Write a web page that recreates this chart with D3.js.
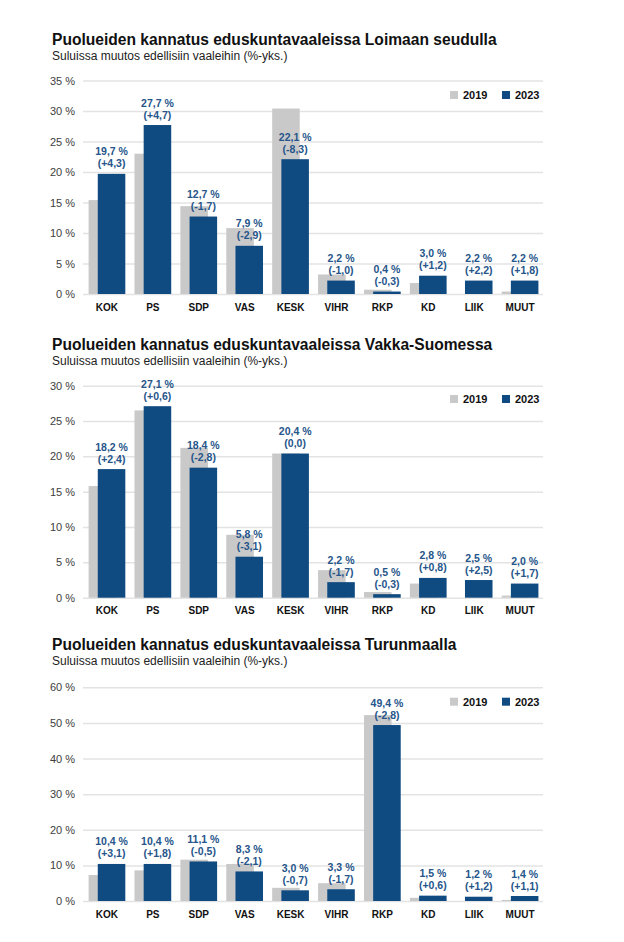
<!DOCTYPE html>
<html lang="fi">
<head>
    <meta charset="UTF-8">
    <title>Puolueiden kannatus eduskuntavaaleissa</title>
    <style>
        body { margin: 0; background: #fff; }
        svg { display: block; font-family: "Liberation Sans", Arial, sans-serif; }
        .tick line { stroke: #e3e3e3; stroke-width: 1.5; }
        .y-axis text { fill: #404040; font-size: 11px; }
        .x-axis text { fill: #111; font-size: 10px; font-weight: bold; }
    </style>
</head>
<body>
    <div id="chart"></div>

    <script src="https://d3js.org/d3.v7.min.js"></script>
    <script>
        const parties = ["KOK", "PS", "SDP", "VAS", "KESK", "VIHR", "RKP", "KD", "LIIK", "MUUT"];
        const years = ["2019", "2023"];

        // Loimaan seutu
        const loimaa2019 = [15.4, 23.0, 14.4, 10.8, 30.4, 3.2, 0.7, 1.8, 0.0, 0.4];
        const loimaa2023 = [19.7, 27.7, 12.7, 7.9, 22.1, 2.2, 0.4, 3.0, 2.2, 2.2];
        const loimaaChange = [4.3, 4.7, -1.7, -2.9, -8.3, -1.0, -0.3, 1.2, 2.2, 1.8];
        const loimaaTicks = [0, 5, 10, 15, 20, 25, 30, 35];

        // Vakka-Suomi
        const vakka2019 = [15.8, 26.5, 21.2, 8.9, 20.4, 3.9, 0.8, 2.0, 0.0, 0.3];
        const vakka2023 = [18.2, 27.1, 18.4, 5.8, 20.4, 2.2, 0.5, 2.8, 2.5, 2.0];
        const vakkaChange = [2.4, 0.6, -2.8, -3.1, 0.0, -1.7, -0.3, 0.8, 2.5, 1.7];
        const vakkaTicks = [0, 5, 10, 15, 20, 25, 30];

        // Turunmaa
        const turunmaa2019 = [7.3, 8.6, 11.6, 10.4, 3.7, 5.0, 52.2, 0.9, 0.0, 0.3];
        const turunmaa2023 = [10.4, 10.4, 11.1, 8.3, 3.0, 3.3, 49.4, 1.5, 1.2, 1.4];
        const turunmaaChange = [3.1, 1.8, -0.5, -2.1, -0.7, -1.7, -2.8, 0.6, 1.2, 1.1];
        const turunmaaTicks = [0, 10, 20, 30, 40, 50, 60];

        const subtitle = "Suluissa muutos edellisiin vaaleihin (%-yks.)";
        const colors = { "2019": "#c9c9c9", "2023": "#0f4a80" };
        const labelColor = "#26558a";

        const fi = d3.formatLocale({ decimal: ",", thousands: "\u00a0", grouping: [3], currency: ["", " €"], minus: "-" });
        const fmt1 = fi.format(".1f");
        const fmtValue = v => fmt1(v) + " %";
        const fmtChange = v => "(" + (v > 0 ? "+" : "") + fmt1(v) + ")";

        const width = 624, height = 942;
        const svg = d3.select("#chart").append("svg")
            .attr("width", width)
            .attr("height", height);

        svg.append("rect").attr("width", width).attr("height", height).attr("fill", "#fff");

        const panels = [
            { title: "Puolueiden kannatus eduskuntavaaleissa Loimaan seudulla", v2019: loimaa2019, v2023: loimaa2023, change: loimaaChange, ticks: loimaaTicks, titleY: 44.5, top: 80.5, bottom: 294, legendY: 95 },
            { title: "Puolueiden kannatus eduskuntavaaleissa Vakka-Suomessa", v2019: vakka2019, v2023: vakka2023, change: vakkaChange, ticks: vakkaTicks, titleY: 349.5, top: 385.7, bottom: 597.7, legendY: 399 },
            { title: "Puolueiden kannatus eduskuntavaaleissa Turunmaalla", v2019: turunmaa2019, v2023: turunmaa2023, change: turunmaaChange, ticks: turunmaaTicks, titleY: 649.5, top: 687.3, bottom: 901, legendY: 701.7 }
        ];

        const x = d3.scaleBand()
            .domain(parties)
            .range([84, 543])
            .paddingInner(0.2)
            .paddingOuter(0.1);
        const barW = x.bandwidth() * 0.75;

        function drawPanel(p) {
            const g = svg.append("g");

            g.append("text")
                .attr("x", 52).attr("y", p.titleY)
                .attr("font-size", "15.6px").attr("font-weight", "bold").attr("fill", "#111")
                .text(p.title);
            g.append("text")
                .attr("x", 52).attr("y", p.titleY + 15)
                .attr("font-size", "12px").attr("fill", "#222")
                .text(subtitle);

            const y = d3.scaleLinear()
                .domain([0, d3.max(p.ticks)])
                .range([p.bottom, p.top]);

            const yAxis = g.append("g")
                .attr("class", "y-axis")
                .attr("transform", "translate(83,0)")
                .call(d3.axisLeft(y)
                    .tickValues(p.ticks)
                    .tickSize(-(543 - 83))
                    .tickPadding(8)
                    .tickFormat(d => d + " %"));
            yAxis.select(".domain").remove();

            const xAxis = g.append("g")
                .attr("class", "x-axis")
                .attr("transform", `translate(0,${p.bottom})`)
                .call(d3.axisBottom(x).tickSize(0).tickPadding(9.5));
            xAxis.select(".domain").remove();

            g.selectAll(".bar2019")
                .data(parties)
                .enter().append("rect")
                .attr("x", d => x(d))
                .attr("y", (d, i) => y(p.v2019[i]))
                .attr("width", barW)
                .attr("height", (d, i) => y(0) - y(p.v2019[i]))
                .attr("fill", colors["2019"]);

            g.selectAll(".bar2023")
                .data(parties)
                .enter().append("rect")
                .attr("x", d => x(d) + x.bandwidth() - barW)
                .attr("y", (d, i) => y(p.v2023[i]))
                .attr("width", barW)
                .attr("height", (d, i) => y(0) - y(p.v2023[i]))
                .attr("fill", colors["2023"]);

            const labels = g.selectAll(".lbl")
                .data(parties)
                .enter().append("g")
                .attr("transform", (d, i) => `translate(${x(d) + x.bandwidth() - barW / 2},${y(p.v2023[i])})`)
                .attr("text-anchor", "middle")
                .attr("font-size", "10.5px")
                .attr("font-weight", "bold")
                .attr("fill", labelColor);
            labels.append("text").attr("y", -18.5).text((d, i) => fmtValue(p.v2023[i]));
            labels.append("text").attr("y", -6.5).text((d, i) => fmtChange(p.change[i]));

            // legend
            const legendX = { "2019": 450, "2023": 502 };
            const leg = g.selectAll(".leg")
                .data(years)
                .enter().append("g")
                .attr("transform", d => `translate(${legendX[d]},${p.legendY})`);
            leg.append("rect")
                .attr("x", 0).attr("y", -4)
                .attr("width", 8).attr("height", 8)
                .attr("fill", d => colors[d]);
            leg.append("text")
                .attr("x", 13).attr("y", 4)
                .attr("font-size", "11px").attr("font-weight", "bold").attr("fill", "#111")
                .text(d => d);
        }

        panels.forEach(drawPanel);
    </script>
</body>
</html>
